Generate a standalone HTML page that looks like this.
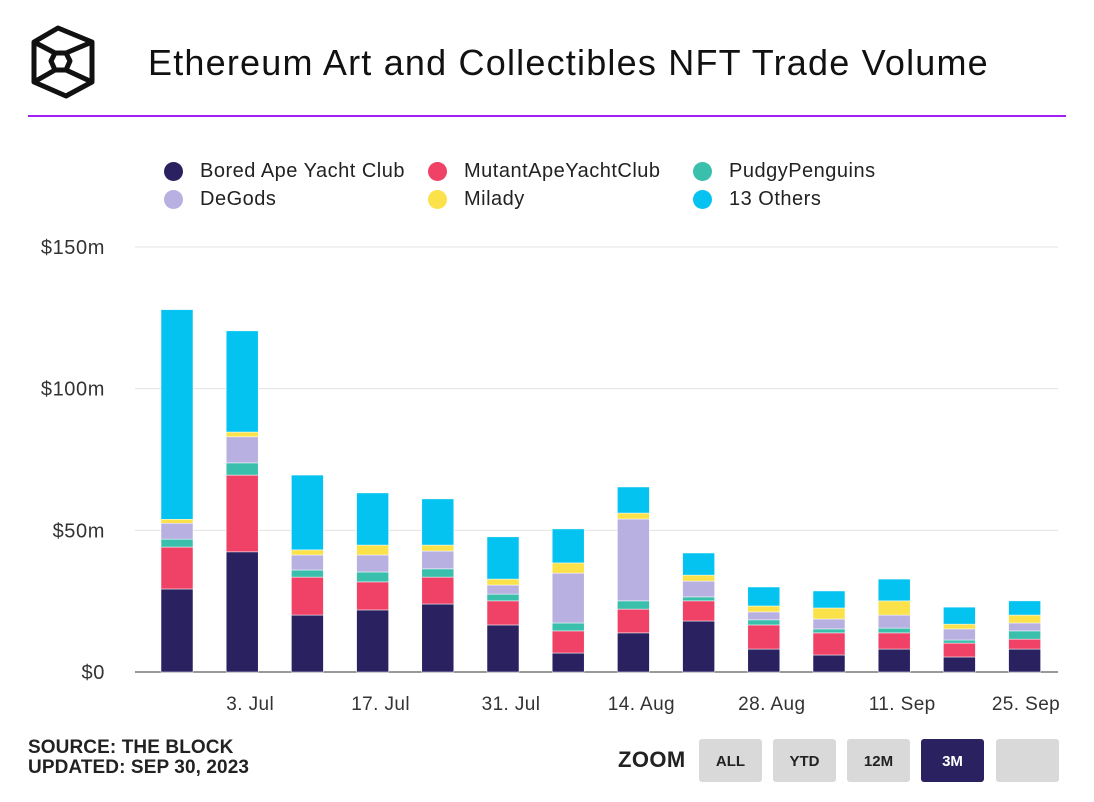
<!DOCTYPE html>
<html><head><meta charset="utf-8"><style>
body{margin:0;background:#fff;width:1094px;height:802px;overflow:hidden;font-family:"Liberation Sans",sans-serif;position:relative}
.abs{position:absolute}
.leg{position:absolute;font-size:20px;letter-spacing:0.5px;color:#222}
.dot{position:absolute;width:19px;height:19px;border-radius:50%}
.btn{position:absolute;top:739px;width:63px;height:43px;background:#d9d9d9;border-radius:3px;font-weight:bold;font-size:15px;color:#222;text-align:center;line-height:45px}
</style></head><body>
<svg class="abs" style="left:0;top:0" width="110" height="110">
<g fill="none" stroke="#111" stroke-width="5" stroke-linejoin="round">
<polygon points="34,42 58,28 92,42 92,82 66,96 34,82"/>
<polygon points="55,53 66,53 70,61 66,70 55,70 51,61"/>
<line x1="34" y1="42" x2="55" y2="53"/><line x1="92" y1="42" x2="66" y2="53"/>
<line x1="34" y1="82" x2="55" y2="70"/><line x1="92" y1="82" x2="66" y2="70"/>
</g></svg>
<div class="abs" style="left:148px;top:42px;font-size:36px;letter-spacing:1.2px;color:#111">Ethereum Art and Collectibles NFT Trade Volume</div>
<div class="abs" style="left:28px;top:115px;width:1038px;height:2px;background:#a11ff0"></div>

<div class="dot" style="left:164px;top:162px;background:#2a2160"></div>
<div class="leg" style="left:200px;top:160px">Bored Ape Yacht Club</div>
<div class="dot" style="left:428px;top:162px;background:#ef4266"></div>
<div class="leg" style="left:464px;top:160px">MutantApeYachtClub</div>
<div class="dot" style="left:693px;top:162px;background:#3bbfad"></div>
<div class="leg" style="left:729px;top:160px">PudgyPenguins</div>
<div class="dot" style="left:164px;top:190px;background:#b7b0e0"></div>
<div class="leg" style="left:200px;top:188px">DeGods</div>
<div class="dot" style="left:428px;top:190px;background:#fbe14a"></div>
<div class="leg" style="left:464px;top:188px">Milady</div>
<div class="dot" style="left:693px;top:190px;background:#05c3f0"></div>
<div class="leg" style="left:729px;top:188px">13 Others</div>

<svg id="chart" class="abs" style="left:0;top:0" width="1094" height="730"></svg>

<div class="abs" style="left:28px;top:738px;font-size:19px;letter-spacing:0.1px;font-weight:bold;color:#222;line-height:20px">SOURCE: THE BLOCK<br>UPDATED: SEP 30, 2023</div>
<div class="abs" style="left:618px;top:747px;font-size:22px;letter-spacing:0.4px;font-weight:bold;color:#222">ZOOM</div>
<div class="btn" style="left:699px">ALL</div>
<div class="btn" style="left:773px">YTD</div>
<div class="btn" style="left:847px">12M</div>
<div class="btn" style="left:921px;background:#2a2160;color:#fff">3M</div>
<div class="btn" style="left:996px"></div>

<script>
const categories=["26 Jun","3. Jul","10 Jul","17. Jul","24 Jul","31. Jul","7 Aug","14. Aug","21 Aug","28. Aug","4 Sep","11. Sep","18 Sep","25. Sep"];
const bayc=[29.3,42.4,20.1,21.9,24,16.6,6.7,13.8,18,8.1,6,8.1,5.3,8.1];
const mayc=[14.8,27.1,13.4,9.9,9.5,8.5,7.8,8.4,7.1,8.5,7.8,5.7,4.9,3.5];
const pudgy=[2.8,4.3,2.5,3.5,2.9,2.4,2.8,2.9,1.4,1.8,1.4,1.7,1.1,2.9];
const degods=[5.6,9.2,5.3,6,6.3,3.2,17.6,28.9,5.6,2.8,3.5,4.6,3.9,2.8];
const milady=[1.4,1.7,1.8,3.5,2.1,2.1,3.6,2.1,2.1,2.1,3.9,5,1.7,2.8];
const others=[74,35.7,26.4,18.4,16.3,14.9,12,9.2,7.8,6.7,6,7.7,6,5];
const yTicks=[0,50,100,150];
const yTickLabels=["$0","$50m","$100m","$150m"];
const xLabelIdx=[1,3,5,7,9,11,13];

const svg=document.getElementById('chart');
const NS='http://www.w3.org/2000/svg';
const y0=672,yTop=247,vMax=150;
const y=v=>y0-(v/vMax)*(y0-yTop);
const x=i=>177+i*65.2;
const bw=32;
function mk(tag,attrs){const e=document.createElementNS(NS,tag);for(const k in attrs)e.setAttribute(k,attrs[k]);svg.appendChild(e);return e;}
yTicks.forEach((t,i)=>{
  const l=mk('line',{x1:135,x2:1058,y1:y(t),y2:y(t),stroke:t===0?'#333':'#e3e3e3','stroke-width':1});
  
  
  const tx=mk('text',{x:105,y:y(t)+7,'text-anchor':'end','font-size':20,'letter-spacing':0.6,fill:'#333','font-family':'Liberation Sans, sans-serif'});
  tx.textContent=yTickLabels[i];
  
  
});
const series=[[bayc,'#2a2160','bayc'],[mayc,'#ef4266','mayc'],[pudgy,'#3bbfad','pudgy'],[degods,'#b7b0e0','degods'],[milady,'#fbe14a','milady'],[others,'#05c3f0','others']];
categories.forEach((c,i)=>{
  let acc=0;
  series.forEach(([arr,col,nm])=>{
    const v=arr[i];
    const r=mk('rect',{x:x(i)-bw/2,y:y(acc+v),width:bw,height:y(acc)-y(acc+v),fill:col,stroke:'#fff','stroke-width':0.5});
    
    
    acc+=v;
  });
});
xLabelIdx.forEach(i=>{
  const cx=Math.min(x(i)+8,1026);
  const t=mk('text',{x:cx,y:710,'text-anchor':'middle','font-size':19,'letter-spacing':0.4,fill:'#333','font-family':'Liberation Sans, sans-serif'});
  t.textContent=categories[i];
  
  
});
</script>
</body></html>
